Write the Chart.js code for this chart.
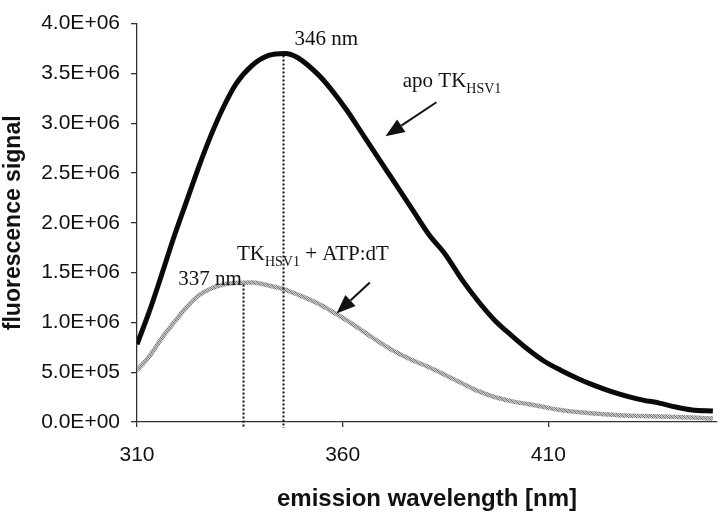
<!DOCTYPE html>
<html>
<head>
<meta charset="utf-8">
<script src="https://cdn.jsdelivr.net/npm/chart.js@4.4.1/dist/chart.umd.min.js"></script>
<style>
  html, body { margin: 0; padding: 0; background: #ffffff; }
  #wrap { width: 720px; height: 514px; }
</style>
</head>
<body>
<div id="wrap"><canvas id="c" width="720" height="514"></canvas></div>
<script>
// ---- data ----
const wavelengths = [310,313,316,319,322,325,328,331,334,338,342,346,349,354,357,361,365,369,373,377,381,385,389,393,397,401,405,409,413,417,421,425,429,433,437,441,445,450];
const apoTK = [0.78e6,1.11e6,1.48e6,1.86e6,2.21e6,2.56e6,2.88e6,3.16e6,3.39e6,3.58e6,3.68e6,3.70e6,3.66e6,3.49e6,3.35e6,3.13e6,2.88e6,2.63e6,2.38e6,2.13e6,1.88e6,1.68e6,1.43e6,1.21e6,1.02e6,0.87e6,0.73e6,0.61e6,0.52e6,0.44e6,0.37e6,0.31e6,0.26e6,0.22e6,0.19e6,0.15e6,0.12e6,0.11e6];
const tkAtpDt = [0.52e6,0.66e6,0.84e6,1.00e6,1.15e6,1.27e6,1.34e6,1.38e6,1.395e6,1.40e6,1.37e6,1.33e6,1.28e6,1.19e6,1.12e6,1.02e6,0.91e6,0.80e6,0.70e6,0.62e6,0.55e6,0.47e6,0.39e6,0.31e6,0.25e6,0.21e6,0.18e6,0.15e6,0.12e6,0.10e6,0.085e6,0.075e6,0.065e6,0.06e6,0.055e6,0.05e6,0.045e6,0.035e6];
const xTickValues = [310, 360, 410];
const yTickStep = 5e5;
const peakLabels = ['346 nm', '337 nm'];
const peakWavelengths = [345.5, 335.7];
const peakSignals = [3.70e6, 1.40e6];
const seriesNames = ['apo TK', 'TK'];

// textured gray for the complex curve
function grayPattern() {
  const p = document.createElement('canvas');
  p.width = 4; p.height = 4;
  const g = p.getContext('2d');
  g.fillStyle = '#cacaca'; g.fillRect(0, 0, 4, 4);
  g.fillStyle = '#707070';
  for (let i = 0; i < 4; i++) g.fillRect(i, (i + 1) % 4, 1, 1);
  g.fillStyle = '#9a9a9a';
  for (let i = 0; i < 4; i++) g.fillRect(i, (i + 3) % 4, 1, 1);
  return g.createPattern(p, 'repeat');
}

function sci(v) {
  const s = Number(v).toExponential(1);
  const [m, e] = s.split('e');
  const ex = parseInt(e, 10);
  return m + 'E' + (ex < 0 ? '-' : '+') + String(Math.abs(ex)).padStart(2, '0');
}

const SERIF = '"Liberation Serif", "Times New Roman", serif';

function drawArrow(ctx, x1, y1, x2, y2) {
  const ang = Math.atan2(y2 - y1, x2 - x1);
  const headLen = 19, headW = 7.5;
  const bx = x2 - headLen * Math.cos(ang), by = y2 - headLen * Math.sin(ang);
  ctx.beginPath();
  ctx.moveTo(x1, y1); ctx.lineTo(bx, by);
  ctx.lineWidth = 2; ctx.strokeStyle = '#111'; ctx.setLineDash([]);
  ctx.stroke();
  ctx.beginPath();
  ctx.moveTo(x2, y2);
  ctx.lineTo(bx + headW * Math.sin(ang), by - headW * Math.cos(ang));
  ctx.lineTo(bx - headW * Math.sin(ang), by + headW * Math.cos(ang));
  ctx.closePath();
  ctx.fillStyle = '#111';
  ctx.fill();
}

function drawSubLabel(ctx, x, y, main, sub, rest) {
  ctx.textAlign = 'left'; ctx.textBaseline = 'alphabetic';
  ctx.fillStyle = '#111';
  ctx.font = '21px ' + SERIF;
  ctx.fillText(main, x, y);
  let cx = x + ctx.measureText(main).width;
  ctx.font = '14px ' + SERIF;
  ctx.fillText(sub, cx, y + 6);
  cx += ctx.measureText(sub).width;
  if (rest) {
    ctx.font = '21px ' + SERIF;
    ctx.fillText(rest, cx, y);
  }
}

const annotations = {
  id: 'annotations',
  afterDatasetsDraw(chart) {
    const ctx = chart.ctx;
    const xs = chart.scales.x, ys = chart.scales.y;
    const X = v => xs.getPixelForValue(v), Y = v => ys.getPixelForValue(v);
    ctx.save();
    ctx.strokeStyle = '#111'; ctx.lineWidth = 2; ctx.setLineDash([2, 2]);
    for (let i = 0; i < peakWavelengths.length; i++) {
      const px = Math.round(X(peakWavelengths[i])) + 0.5;
      ctx.beginPath();
      ctx.moveTo(px, Y(peakSignals[i]) + 2);
      ctx.lineTo(px, Y(0) + 6);
      ctx.stroke();
    }
    ctx.setLineDash([]);
    ctx.fillStyle = '#111'; ctx.font = '21px ' + SERIF;
    ctx.textAlign = 'left'; ctx.textBaseline = 'alphabetic';
    ctx.fillText(peakLabels[0], X(348.3), Y(3.79e6));
    ctx.fillText(peakLabels[1], X(320.0), Y(1.38e6));
    drawSubLabel(ctx, X(374.6), Y(3.36e6), seriesNames[0], 'HSV1', '');
    drawSubLabel(ctx, X(334.3), Y(1.625e6), seriesNames[1], 'HSV1', ' + ATP:dT');
    drawArrow(ctx, X(382.8), Y(3.21e6), X(370.4), Y(2.87e6));
    drawArrow(ctx, X(366.6), Y(1.40e6), X(358.5), Y(1.09e6));
    ctx.restore();
  }
};

const ctx = document.getElementById('c').getContext('2d');
new Chart(ctx, {
  type: 'line',
  data: {
    labels: wavelengths,
    datasets: [
      {
        label: 'TKHSV1 + ATP:dT',
        data: wavelengths.map((w, i) => ({ x: w, y: tkAtpDt[i] })),
        borderColor: grayPattern(),
        borderWidth: 4.5,
        pointRadius: 0,
        cubicInterpolationMode: 'monotone',
        fill: false
      },
      {
        label: 'apo TKHSV1',
        data: wavelengths.map((w, i) => ({ x: w, y: apoTK[i] })),
        borderColor: '#0a0a0a',
        borderWidth: 5,
        pointRadius: 0,
        cubicInterpolationMode: 'monotone',
        fill: false
      }
    ]
  },
  options: {
    responsive: false,
    animation: false,
    devicePixelRatio: 1,
    layout: { padding: { left: 0, right: 3, top: 11, bottom: 0 } },
    plugins: { legend: { display: false }, tooltip: { enabled: false } },
    scales: {
      x: {
        type: 'linear',
        min: 310, max: 451,
        afterBuildTicks: s => { s.ticks = xTickValues.map(v => ({ value: v })); },
        afterFit: s => { s.height = 92; },
        grid: { display: true, drawOnChartArea: false, drawTicks: true, tickLength: 5, color: '#333', lineWidth: 1.3 },
        border: { display: true, color: '#333', width: 1.3 },
        ticks: { padding: 16, color: '#111', font: { family: '"Liberation Sans", Arial, sans-serif', size: 21 }, maxRotation: 0 },
        title: { display: true, text: 'emission wavelength [nm]', color: '#111', padding: { top: 0, bottom: 0 },
                 font: { family: '"Liberation Sans", Arial, sans-serif', size: 24, weight: 'bold' } }
      },
      y: {
        min: 0, max: 4e6,
        afterFit: s => { s.width = 137; },
        grid: { display: true, drawOnChartArea: false, drawTicks: true, tickLength: 6, color: '#333', lineWidth: 1.3 },
        border: { display: true, color: '#333', width: 1.3 },
        ticks: { stepSize: yTickStep, padding: 11, color: '#111', callback: v => sci(v),
                 font: { family: '"Liberation Sans", Arial, sans-serif', size: 21 } },
        title: { display: true, text: 'fluorescence signal', color: '#111', padding: { top: 0, bottom: 0 },
                 font: { family: '"Liberation Sans", Arial, sans-serif', size: 23, weight: 'bold' } }
      }
    }
  },
  plugins: [annotations]
});
</script>
</body>
</html>
